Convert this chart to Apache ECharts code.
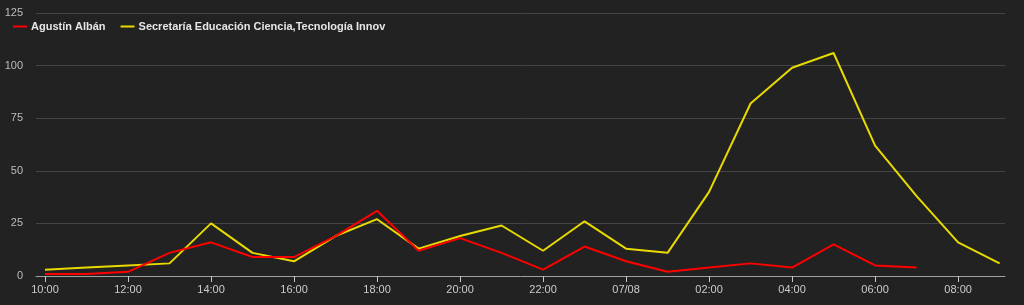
<!DOCTYPE html>
<html>
<head>
<meta charset="utf-8">
<script src="https://cdn.jsdelivr.net/npm/echarts@6/dist/echarts.min.js"></script>
<style>
html,body{margin:0;padding:0;background:#222222;}
#chart{width:1024px;height:305px;}
</style>
</head>
<body>
<div id="chart"></div>
<script>
// Hourly categories, 07/07 10:00 through 07/08 09:00
const hours = ['10:00','11:00','12:00','13:00','14:00','15:00','16:00','17:00','18:00','19:00','20:00','21:00','22:00','23:00','00:00','01:00','02:00','03:00','04:00','05:00','06:00','07:00','08:00','09:00'];
const seriesNames = ['Agustín Albán', 'Secretaría Educación Ciencia,Tecnología Innov'];
const agustin = [1,1,2,11,16,9,9,19,31,12,18,11,3,14,7,2,4,6,4,15,5,4];
const secretaria = [3,4,5,6,25,11,7,19,27,13,19,24,12,26,13,11,40,82,99,106,62,38,16,6];
const tickLabels = ['10:00','12:00','14:00','16:00','18:00','20:00','22:00','07/08','02:00','04:00','06:00','08:00'];
const yTicks = [0,25,50,75,100,125];

const toPoints = arr => arr.map((v, i) => [i, v]);
const tickPositions = tickLabels.map((_, i) => i * 2);

const chart = echarts.init(document.getElementById('chart'), null, {renderer: 'canvas'});
chart.setOption({
  backgroundColor: '#222222',
  animation: false,
  textStyle: {fontFamily: 'Liberation Sans, Arial, sans-serif'},
  legend: {
    left: 8,
    top: 16,
    itemGap: 15,
    itemWidth: 14,
    itemHeight: 2,
    icon: 'rect',
    textStyle: {color: '#e6e6e6', fontSize: 11, fontWeight: 'bold', padding: [0,0,0,-1]},
    data: seriesNames
  },
  grid: {left: 36, right: 19, top: 13, bottom: 29},
  xAxis: {
    type: 'value',
    min: -0.217,
    max: 23.13,
    splitLine: {show: false},
    axisLine: {show: true, lineStyle: {color: '#a0a0a0', width: 1}},
    axisTick: {show: true, customValues: tickPositions, length: 6, lineStyle: {color: '#c8c8c8'}},
    axisLabel: {
      customValues: tickPositions,
      color: '#cccccc',
      fontSize: 11,
      margin: 8,
      formatter: v => tickLabels[Math.round(v / 2)]
    }
  },
  yAxis: {
    type: 'value',
    min: 0,
    max: 125,
    interval: 25,
    axisLine: {show: false},
    axisTick: {show: false},
    axisLabel: {color: '#bdbdbd', fontSize: 11, margin: 13,
      formatter: v => String(yTicks[yTicks.indexOf(v)])},
    splitLine: {lineStyle: {color: '#444444', width: 1}}
  },
  series: [
    {
      name: seriesNames[0], type: 'line', data: toPoints(agustin),
      showSymbol: false, symbol: 'none',
      lineStyle: {color: '#ff0000', width: 2}, itemStyle: {color: '#ff0000'}, z: 3
    },
    {
      name: seriesNames[1], type: 'line', data: toPoints(secretaria),
      showSymbol: false, symbol: 'none',
      lineStyle: {color: '#e8da00', width: 2}, itemStyle: {color: '#e8da00'}, z: 2
    }
  ]
});
</script>
</body>
</html>
